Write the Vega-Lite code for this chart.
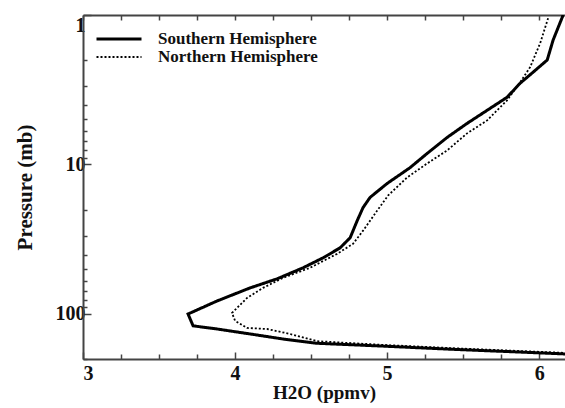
{
  "$schema": "https://vega.github.io/schema/vega-lite/v6.json",
  "width": 482,
  "height": 344,
  "autosize": "none",
  "padding": {"left": 83, "top": 15, "right": 0, "bottom": 49},
  "background": "white",
  "config": {
    "view": {"stroke": null},
    "font": "Liberation Serif",
    "axis": {
      "domainColor": "#444",
      "tickColor": "#444",
      "labelFont": "Liberation Serif",
      "titleFont": "Liberation Serif",
      "labelFontWeight": "bold",
      "titleFontWeight": "bold",
      "labelColor": "#111",
      "titleColor": "#111",
      "grid": false
    }
  },
  "data": {
    "values": [
      {"i": 1, "h": "Southern Hemisphere", "x": 6.158, "p": 1.0},
      {"i": 2, "h": "Southern Hemisphere", "x": 6.092, "p": 1.47},
      {"i": 3, "h": "Southern Hemisphere", "x": 6.053, "p": 2.0},
      {"i": 4, "h": "Southern Hemisphere", "x": 5.961, "p": 2.41},
      {"i": 5, "h": "Southern Hemisphere", "x": 5.875, "p": 2.86},
      {"i": 6, "h": "Southern Hemisphere", "x": 5.789, "p": 3.55},
      {"i": 7, "h": "Southern Hemisphere", "x": 5.658, "p": 4.34},
      {"i": 8, "h": "Southern Hemisphere", "x": 5.526, "p": 5.31},
      {"i": 9, "h": "Southern Hemisphere", "x": 5.395, "p": 6.59},
      {"i": 10, "h": "Southern Hemisphere", "x": 5.263, "p": 8.44},
      {"i": 11, "h": "Southern Hemisphere", "x": 5.151, "p": 10.5},
      {"i": 12, "h": "Southern Hemisphere", "x": 5.0, "p": 13.4},
      {"i": 13, "h": "Southern Hemisphere", "x": 4.888, "p": 16.6},
      {"i": 14, "h": "Southern Hemisphere", "x": 4.842, "p": 19.4},
      {"i": 15, "h": "Southern Hemisphere", "x": 4.803, "p": 23.8},
      {"i": 16, "h": "Southern Hemisphere", "x": 4.757, "p": 30.9},
      {"i": 17, "h": "Southern Hemisphere", "x": 4.691, "p": 36.1},
      {"i": 18, "h": "Southern Hemisphere", "x": 4.579, "p": 42.1},
      {"i": 19, "h": "Southern Hemisphere", "x": 4.447, "p": 49.1},
      {"i": 20, "h": "Southern Hemisphere", "x": 4.276, "p": 58.2},
      {"i": 21, "h": "Southern Hemisphere", "x": 4.099, "p": 66.9},
      {"i": 22, "h": "Southern Hemisphere", "x": 3.882, "p": 81.8},
      {"i": 23, "h": "Southern Hemisphere", "x": 3.691, "p": 100},
      {"i": 24, "h": "Southern Hemisphere", "x": 3.724, "p": 120},
      {"i": 25, "h": "Southern Hemisphere", "x": 3.882, "p": 126},
      {"i": 26, "h": "Southern Hemisphere", "x": 4.099, "p": 136},
      {"i": 27, "h": "Southern Hemisphere", "x": 4.316, "p": 147},
      {"i": 28, "h": "Southern Hemisphere", "x": 4.539, "p": 157},
      {"i": 29, "h": "Southern Hemisphere", "x": 4.974, "p": 164},
      {"i": 30, "h": "Southern Hemisphere", "x": 5.414, "p": 172},
      {"i": 31, "h": "Southern Hemisphere", "x": 6.171, "p": 185},
      {"i": 1, "h": "Northern Hemisphere", "x": 6.059, "p": 1.05},
      {"i": 2, "h": "Northern Hemisphere", "x": 6.007, "p": 1.54},
      {"i": 3, "h": "Northern Hemisphere", "x": 5.941, "p": 2.23},
      {"i": 4, "h": "Northern Hemisphere", "x": 5.875, "p": 2.82},
      {"i": 5, "h": "Northern Hemisphere", "x": 5.789, "p": 3.72},
      {"i": 6, "h": "Northern Hemisphere", "x": 5.658, "p": 5.07},
      {"i": 7, "h": "Northern Hemisphere", "x": 5.526, "p": 6.19},
      {"i": 8, "h": "Northern Hemisphere", "x": 5.395, "p": 8.05},
      {"i": 9, "h": "Northern Hemisphere", "x": 5.263, "p": 9.85},
      {"i": 10, "h": "Northern Hemisphere", "x": 5.132, "p": 12.2},
      {"i": 11, "h": "Northern Hemisphere", "x": 5.007, "p": 16.1},
      {"i": 12, "h": "Northern Hemisphere", "x": 4.934, "p": 20.4},
      {"i": 13, "h": "Northern Hemisphere", "x": 4.842, "p": 27.7},
      {"i": 14, "h": "Northern Hemisphere", "x": 4.776, "p": 33.9},
      {"i": 15, "h": "Northern Hemisphere", "x": 4.671, "p": 39.6},
      {"i": 16, "h": "Northern Hemisphere", "x": 4.493, "p": 49.1},
      {"i": 17, "h": "Northern Hemisphere", "x": 4.316, "p": 57.3},
      {"i": 18, "h": "Northern Hemisphere", "x": 4.184, "p": 66.9},
      {"i": 19, "h": "Northern Hemisphere", "x": 4.079, "p": 78.1},
      {"i": 20, "h": "Northern Hemisphere", "x": 3.98, "p": 98.4},
      {"i": 21, "h": "Northern Hemisphere", "x": 4.0, "p": 111},
      {"i": 22, "h": "Northern Hemisphere", "x": 4.079, "p": 124},
      {"i": 23, "h": "Northern Hemisphere", "x": 4.211, "p": 126},
      {"i": 24, "h": "Northern Hemisphere", "x": 4.362, "p": 136},
      {"i": 25, "h": "Northern Hemisphere", "x": 4.539, "p": 152},
      {"i": 26, "h": "Northern Hemisphere", "x": 4.974, "p": 161},
      {"i": 27, "h": "Northern Hemisphere", "x": 5.414, "p": 169},
      {"i": 28, "h": "Northern Hemisphere", "x": 6.171, "p": 182}
    ]
  },
  "layer": [
    {
      "mark": {"type": "line", "clip": true, "color": "black"},
      "encoding": {
        "x": {
          "field": "x", "type": "quantitative",
          "scale": {"domain": [3, 6.17], "nice": false, "zero": false},
          "axis": {
            "orient": "bottom",
            "title": "H2O (ppmv)",
            "titleFontSize": 19,
            "titlePadding": 0,
            "labelFontSize": 20,
            "labelPadding": 11,
            "values": [3, 3.25, 3.5, 3.75, 4, 4.25, 4.5, 4.75, 5, 5.25, 5.5, 5.75, 6],
            "labelExpr": "datum.value % 1 === 0 ? format(datum.value, 'd') : ''",
            "tickSize": {"condition": {"test": "datum.value % 1 === 0", "value": -7}, "value": -5},
            "tickWidth": 1.5,
            "domainWidth": 2
          }
        },
        "y": {
          "field": "p", "type": "quantitative",
          "scale": {"type": "log", "domain": [1, 200], "reverse": true, "nice": false},
          "axis": {
            "orient": "left",
            "title": "Pressure (mb)",
            "titleFontSize": 21,
            "titlePadding": 20,
            "labelFontSize": 20,
            "labelPadding": 6,
            "labelFlush": true,
            "values": [1, 2, 3, 4, 5, 6, 7, 8, 9, 10, 20, 30, 40, 50, 60, 70, 80, 90, 100, 200],
            "labelExpr": "indexof([1, 10, 100], datum.value) >= 0 ? format(datum.value, 'd') : ''",
            "tickSize": {"condition": {"test": "indexof([1, 10, 100], datum.value) >= 0", "value": -8}, "value": -4},
            "tickWidth": 1.5,
            "domainWidth": 2
          }
        },
        "order": {"field": "i", "type": "quantitative"},
        "detail": {"field": "h"},
        "strokeDash": {
          "field": "h", "type": "nominal",
          "scale": {"domain": ["Southern Hemisphere", "Northern Hemisphere"], "range": [[1, 0], [2, 2]]},
          "legend": {
            "title": null,
            "orient": "none",
            "legendX": 12,
            "legendY": 18,
            "symbolType": "stroke",
            "symbolSize": 2025,
            "symbolStrokeColor": "black",
            "clipHeight": 12,
            "labelFont": "Liberation Serif",
            "labelFontWeight": "bold",
            "labelFontSize": 17,
            "labelColor": "#111",
            "rowPadding": 1,
            "labelOffset": 15
          }
        },
        "strokeWidth": {
          "field": "h", "type": "nominal",
          "scale": {"domain": ["Southern Hemisphere", "Northern Hemisphere"], "range": [3, 1.8]},
          "legend": null
        }
      }
    },
    {
      "mark": {"type": "point", "opacity": 0},
      "encoding": {
        "x": {
          "field": "x", "type": "quantitative",
          "axis": {
            "orient": "top",
            "title": null,
            "labels": false,
            "values": [3, 3.25, 3.5, 3.75, 4, 4.25, 4.5, 4.75, 5, 5.25, 5.5, 5.75, 6],
            "tickSize": -5,
            "tickWidth": 1.5,
            "domainWidth": 2
          }
        },
        "y": {"field": "p", "type": "quantitative"}
      }
    }
  ],
  "resolve": {"axis": {"x": "independent"}}
}
